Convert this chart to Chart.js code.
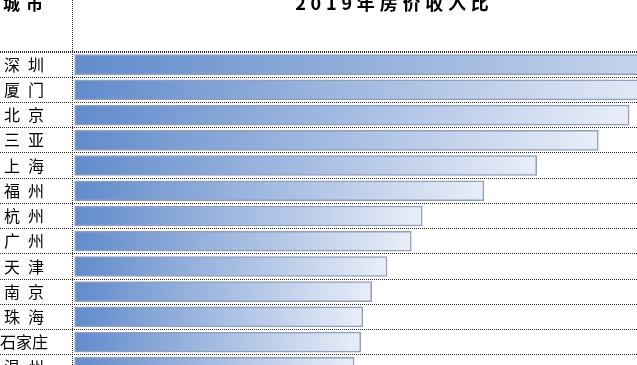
<!DOCTYPE html>
<html><head><meta charset="utf-8">
<script src="https://cdn.jsdelivr.net/npm/chart.js@4"></script>
<style>
html,body{margin:0;padding:0;background:#fff;overflow:hidden;width:637px;height:365px}
#wrap{width:716px;height:380px}
canvas{display:block}
</style></head>
<body><div id="wrap"><canvas id="c" width="716" height="380"></canvas></div>
<script>
const cities = ['深圳','厦门','北京','三亚','上海','福州','杭州','广州','天津','南京','珠海','石家庄','温州'];
const ratio2019 = [35.2, 27.0, 25.2, 23.8, 21.0, 18.6, 15.8, 15.3, 14.2, 13.5, 13.1, 13.0, 12.7];
const headerCity = '城市';
const headerValue = '2019年房价收入比';

const FONT = '"Noto Sans CJK SC", "Noto Sans", sans-serif';
const DOT = '#2a2a2a';

function drawSpaced(ctx, text, cx, y, spacing) {
  const chars = Array.from(text);
  const widths = chars.map(c => ctx.measureText(c).width);
  const total = widths.reduce((a, b) => a + b, 0) + spacing * (chars.length - 1);
  let x = cx - total / 2;
  ctx.textAlign = 'left';
  chars.forEach((c, i) => { ctx.fillText(c, x, y); x += widths[i] + spacing; });
}

const sheetPlugin = {
  id: 'sheet',
  afterDraw(chart) {
    const {ctx, chartArea} = chart;
    ctx.save();
    ctx.strokeStyle = DOT;
    ctx.lineWidth = 1;
    ctx.setLineDash([1, 1]);
    ctx.beginPath();
    const vx = Math.round(chartArea.left) + 0.5;
    ctx.moveTo(vx, 0);
    ctx.lineTo(vx, chart.height);
    ctx.stroke();
    ctx.setLineDash([]);
    ctx.fillStyle = '#000';
    ctx.textBaseline = 'middle';
    ctx.font = 'bold 17px ' + FONT;
    drawSpaced(ctx, headerCity, 23, 4, 6);
    ctx.font = 'bold 18px ' + FONT;
    drawSpaced(ctx, headerValue, (chartArea.left + chartArea.right) / 2 - 2, 3, 4.8);
    ctx.restore();
  }
};

function barGradient(context) {
  const chart = context.chart;
  if (!chart.chartArea || !chart.scales.x) return '#6a93cf';
  const xs = chart.scales.x;
  const x0 = xs.getPixelForValue(0);
  const x1 = xs.getPixelForValue(context.raw);
  const g = chart.ctx.createLinearGradient(x0, 0, x1, 0);
  g.addColorStop(0, '#618bcb');
  g.addColorStop(1, '#e9eef8');
  return g;
}

new Chart(document.getElementById('c'), {
  type: 'bar',
  data: {
    labels: cities,
    datasets: [{
      data: ratio2019,
      backgroundColor: barGradient,
      borderColor: '#939fba',
      borderWidth: 1.5,
      borderSkipped: false,
      barThickness: 20
    }]
  },
  options: {
    indexAxis: 'y',
    responsive: false,
    animation: false,
    devicePixelRatio: 1,
    layout: {padding: {top: 52, left: 0, right: 0, bottom: 0}},
    plugins: {legend: {display: false}, tooltip: {enabled: false}, title: {display: false}},
    scales: {
      x: {
        display: false,
        min: -0.12,
        max: 29.15
      },
      y: {
        position: 'left',
        afterFit(scale) { scale.width = 72; },
        grid: {
          offset: true,
          color: DOT,
          lineWidth: c => c.index === 0 ? 2 : 1,
          drawTicks: true,
          tickLength: 72,
          tickColor: DOT,
          tickWidth: c => c.index === 0 ? 2 : 1,
          tickBorderDash: [1, 1]
        },
        border: {display: false, dash: [1, 1]},
        ticks: {
          crossAlign: 'center',
          padding: -48,
          color: '#000',
          font: {family: FONT, size: 16},
          autoSkip: false,
          callback: function (v) {
            const l = this.getLabelForValue(v);
            return l.length === 2 ? l[0] + '\u2002' + l[1] : l;
          }
        }
      }
    }
  },
  plugins: [sheetPlugin]
});
</script>
</body></html>
